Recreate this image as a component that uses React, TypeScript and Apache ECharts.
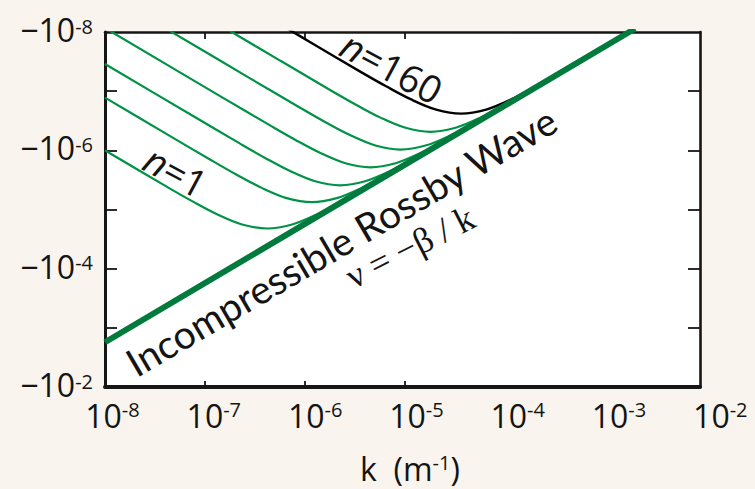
import React, { useEffect, useRef } from 'react';
import * as echarts from 'echarts';

// ---- data (k in m^-1, |nu| plotted on an inverted log axis, labelled as negative) ----
const X_MIN = 1e-8;
const X_FRAME_MAX = 8.9125e-3; // right frame of the box
const Y_MIN = 1e-8;
const Y_MAX = 1e-2;

const X_TICKS = [1e-7, 1e-6, 1e-5];
const X_LABELS = [1e-8, 1e-7, 1e-6, 1e-5, 1e-4, 1e-3, 1e-2];
const Y_TICKS = [1e-7, 1e-6, 1e-5, 1e-4, 1e-3];
const Y_LABELS = [1e-8, 1e-6, 1e-4, 1e-2];

// incompressible Rossby wave  nu = -beta/k
const K_ROSSBY = [1e-8, 1.75e-3, 2e-3];
const NU_ROSSBY = [1.75e-3, 1.0e-8, 8.75e-9];

// n = 1 (lowest green curve)
const K_N1 = [1e-8, 1.321e-8, 4.18e-8, 7.43e-8, 1.321e-7, 2.35e-7, 4.18e-7, 7.43e-7, 1.321e-6, 2.35e-6, 4.18e-6, 7.43e-6];
const NU_N1 = [1.0e-6, 1.323e-6, 4.15e-6, 7.22e-6, 1.204e-5, 1.789e-5, 2.094e-5, 1.789e-5, 1.204e-5, 7.22e-6, 4.15e-6, 2.35e-6];

const K_C2 = [1e-8, 3.69e-8, 1.167e-7, 2.075e-7, 3.69e-7, 6.56e-7, 1.167e-6, 2.075e-6, 3.69e-6, 6.56e-6, 1.167e-5, 2.075e-5];
const NU_C2 = [1.285e-7, 4.74e-7, 1.485e-6, 2.585e-6, 4.31e-6, 6.41e-6, 7.5e-6, 6.41e-6, 4.31e-6, 2.585e-6, 1.485e-6, 8.41e-7];

const K_C3 = [1e-8, 7.1e-8, 2.246e-7, 3.99e-7, 7.1e-7, 1.263e-6, 2.246e-6, 3.99e-6, 7.1e-6, 1.263e-5, 2.246e-5, 3.99e-5];
const NU_C3 = [3.47e-8, 2.46e-7, 7.71e-7, 1.343e-6, 2.24e-6, 3.33e-6, 3.9e-6, 3.33e-6, 2.24e-6, 1.343e-6, 7.71e-7, 4.37e-7];

const K_C4 = [1e-8, 1.429e-7, 4.52e-7, 8.04e-7, 1.429e-6, 2.54e-6, 4.52e-6, 8.04e-6, 1.429e-5, 2.54e-5, 4.52e-5, 8.04e-5];
const NU_C4 = [8.57e-9, 1.224e-7, 3.83e-7, 6.68e-7, 1.113e-6, 1.654e-6, 1.936e-6, 1.654e-6, 1.113e-6, 6.68e-7, 3.83e-7, 2.17e-7];

const K_C5 = [3.98e-8, 2.85e-7, 9.02e-7, 1.603e-6, 2.85e-6, 5.07e-6, 9.02e-6, 1.603e-5, 2.85e-5, 5.07e-5, 9.02e-5, 1.603e-4];
const NU_C5 = [8.57e-9, 6.13e-8, 1.921e-7, 3.35e-7, 5.58e-7, 8.29e-7, 9.7e-7, 8.29e-7, 5.58e-7, 3.35e-7, 1.921e-7, 1.088e-7];

const K_C6 = [1.585e-7, 5.69e-7, 1.799e-6, 3.2e-6, 5.69e-6, 1.012e-5, 1.799e-5, 3.2e-5, 5.69e-5, 1.012e-4, 1.799e-4, 3.2e-4];
const NU_C6 = [8.57e-9, 3.07e-8, 9.63e-8, 1.677e-7, 2.8e-7, 4.16e-7, 4.86e-7, 4.16e-7, 2.8e-7, 1.677e-7, 9.63e-8, 5.45e-8];

// n = 160 (black curve)
const K_N160 = [6.457e-7, 1.152e-6, 3.64e-6, 6.48e-6, 1.152e-5, 2.05e-5, 3.64e-5, 6.48e-5, 1.152e-4, 2.05e-4, 3.64e-4, 6.48e-4];
const NU_N160 = [8.51e-9, 1.517e-8, 4.76e-8, 8.28e-8, 1.381e-7, 2.05e-7, 2.4e-7, 2.05e-7, 1.381e-7, 8.28e-8, 4.76e-8, 2.69e-8];

const GREEN_CURVES = [
  { name: 'n=1', k: K_N1, nu: NU_N1 },
  { name: 'c2', k: K_C2, nu: NU_C2 },
  { name: 'c3', k: K_C3, nu: NU_C3 },
  { name: 'c4', k: K_C4, nu: NU_C4 },
  { name: 'c5', k: K_C5, nu: NU_C5 },
  { name: 'c6', k: K_C6, nu: NU_C6 },
];

// ---- styles ----
const BG = '#f9f5ee';
const AXIS = '#161616';
const TEXT = '#141414';
const THIN_GREEN = '#009245';
const THICK_GREEN = '#007a3d';
const NUM_FONT = 'Open Sans';

const pairs = (k: number[], nu: number[]) => k.map((v, i) => [v, nu[i]]);
const expOf = (v: number) => Math.round(Math.log10(v));

const supRich = {
  m: { fontSize: 32, fontFamily: NUM_FONT, color: TEXT, lineHeight: 32 },
  s: { fontSize: 20, fontFamily: NUM_FONT, color: TEXT, lineHeight: 20, verticalAlign: 'top' },
};

function buildOption() {
  const lineSeries: any[] = GREEN_CURVES.map((c) => ({
    type: 'line',
    name: c.name,
    xAxisIndex: 0,
    yAxisIndex: 0,
    data: pairs(c.k, c.nu),
    symbol: 'none',
    smooth: 0.35,
    clip: true,
    silent: true,
    lineStyle: { color: THIN_GREEN, width: 2.2 },
    z: 2,
  }));
  lineSeries.push({
    type: 'line',
    name: 'n=160',
    xAxisIndex: 0,
    yAxisIndex: 0,
    data: pairs(K_N160, NU_N160),
    symbol: 'none',
    smooth: 0.35,
    clip: true,
    silent: true,
    lineStyle: { color: '#000', width: 2.4 },
    z: 3,
  });
  lineSeries.push({
    type: 'line',
    name: 'Incompressible Rossby Wave',
    xAxisIndex: 0,
    yAxisIndex: 0,
    data: pairs(K_ROSSBY, NU_ROSSBY),
    symbol: 'none',
    clip: true,
    silent: true,
    lineStyle: { color: THICK_GREEN, width: 6, cap: 'butt' },
    z: 4,
  });

  return {
    animation: false,
    backgroundColor: 'transparent',
    grid: [
      { left: 105, top: 32, width: 595, height: 355, show: true, backgroundColor: '#ffffff', borderWidth: 0 },
      { left: 112.5, top: 32, width: 607.8, height: 355, show: false },
    ],
    xAxis: [
      {
        gridIndex: 0, type: 'log', logBase: 10, min: X_MIN, max: X_FRAME_MAX, position: 'bottom',
        axisLine: { show: true, onZero: false, lineStyle: { color: AXIS, width: 4 } },
        axisTick: { show: true, inside: true, length: 6, customValues: X_TICKS, lineStyle: { color: AXIS, width: 1.8 } },
        axisLabel: { show: false }, splitLine: { show: false }, minorTick: { show: false },
      },
      {
        gridIndex: 0, type: 'log', logBase: 10, min: X_MIN, max: X_FRAME_MAX, position: 'top',
        axisLine: { show: true, onZero: false, lineStyle: { color: AXIS, width: 2.6 } },
        axisTick: { show: true, inside: true, length: 7, customValues: X_TICKS, lineStyle: { color: AXIS, width: 1.8 } },
        axisLabel: { show: false }, splitLine: { show: false },
      },
      {
        gridIndex: 1, type: 'log', logBase: 10, min: 1e-8, max: 1e-2, position: 'bottom',
        axisLine: { show: false }, axisTick: { show: false }, splitLine: { show: false },
        axisLabel: {
          show: true, margin: 12, customValues: X_LABELS,
          formatter: (v: number) => `{m|10}{s|${expOf(v)}}`,
          rich: supRich,
        },
      },
    ],
    yAxis: [
      {
        gridIndex: 0, type: 'log', logBase: 10, inverse: true, min: Y_MIN, max: Y_MAX, position: 'left',
        axisLine: { show: true, onZero: false, lineStyle: { color: AXIS, width: 3 } },
        axisTick: { show: true, inside: true, length: 12, customValues: Y_TICKS, lineStyle: { color: AXIS, width: 1.8 } },
        axisLabel: {
          show: true, margin: 12, customValues: Y_LABELS,
          formatter: (v: number) => `{m|\u221210}{s|${expOf(v)}}`,
          rich: {
            m: { fontSize: 32, fontFamily: NUM_FONT, color: TEXT, lineHeight: 32, padding: [0, 0, 5, 0] },
            s: { fontSize: 20, fontFamily: NUM_FONT, color: TEXT, lineHeight: 20, verticalAlign: 'top' },
          },
        },
        splitLine: { show: false },
      },
      {
        gridIndex: 0, type: 'log', logBase: 10, inverse: true, min: Y_MIN, max: Y_MAX, position: 'right',
        axisLine: { show: true, onZero: false, lineStyle: { color: AXIS, width: 2.6 } },
        axisTick: { show: true, inside: true, length: 12, customValues: Y_TICKS, lineStyle: { color: AXIS, width: 1.8 } },
        axisLabel: { show: false }, splitLine: { show: false },
      },
      { gridIndex: 1, type: 'value', show: false },
    ],
    series: lineSeries,
    graphic: [
      {
        type: 'text', x: 341, y: 241, rotation: 0.531, z: 20,
        style: { text: 'Incompressible Rossby Wave', fontSize: 39, fontFamily: 'Lato', fill: TEXT, align: 'center', verticalAlign: 'middle' },
      },
      {
        type: 'text', x: 410, y: 247, rotation: 0.47, z: 20,
        style: { text: '\u03bd = \u2212\u03b2 / k', fontSize: 36, fontFamily: 'Liberation Serif', fill: TEXT, align: 'center', verticalAlign: 'middle' },
      },
      {
        type: 'text', x: 392, y: 67, rotation: -0.49, z: 20,
        style: {
          text: '{i|n}{r|=160}', align: 'center', verticalAlign: 'middle',
          rich: {
            i: { fontSize: 38, fontFamily: NUM_FONT, fontStyle: 'italic', fill: TEXT },
            r: { fontSize: 38, fontFamily: NUM_FONT, fill: TEXT },
          },
        },
      },
      {
        type: 'text', x: 176, y: 171, rotation: -0.49, z: 20,
        style: {
          text: '{i|n}{r|=1}', align: 'center', verticalAlign: 'middle',
          rich: {
            i: { fontSize: 38, fontFamily: NUM_FONT, fontStyle: 'italic', fill: TEXT },
            r: { fontSize: 38, fontFamily: NUM_FONT, fill: TEXT },
          },
        },
      },
      {
        type: 'text', x: 410, y: 468, z: 20,
        style: {
          text: '{m|k  (m}{s|-1}{m|)}', align: 'center', verticalAlign: 'middle',
          rich: {
            m: { fontSize: 32, fontFamily: NUM_FONT, fill: TEXT, lineHeight: 32 },
            s: { fontSize: 20, fontFamily: NUM_FONT, fill: TEXT, lineHeight: 20, verticalAlign: 'top' },
          },
        },
      },
    ],
  };
}

export default function App() {
  const ref = useRef<HTMLDivElement>(null);
  useEffect(() => {
    document.body.style.margin = '0';
    document.body.style.background = BG;
    if (!ref.current) return;
    const chart = echarts.init(ref.current, null, { renderer: 'svg' });
    chart.setOption(buildOption() as any);
    return () => chart.dispose();
  }, []);
  return (
    <div
      ref={ref}
      style={{ position: 'absolute', left: 0, top: 0, width: 755, height: 489, background: BG }}
    />
  );
}
